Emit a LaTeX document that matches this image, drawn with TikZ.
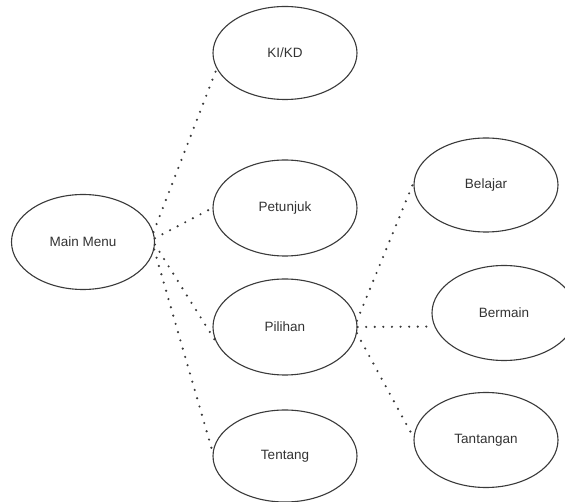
\documentclass[tikz,border=0pt]{standalone}
\usepackage{fontspec}
\setmainfont{Liberation Sans}
\usetikzlibrary{shapes.geometric}
\definecolor{edge}{HTML}{3A3A3A}
\definecolor{txt}{HTML}{333333}
\definecolor{dotc}{HTML}{3A3A3A}
\tikzset{
  usecase/.style={ellipse, draw=edge, line width=1.1pt, inner sep=0pt,
    minimum width=144pt, minimum height=95pt, text=txt,
    font=\fontsize{13.5pt}{16pt}\selectfont},
  link/.style={draw=dotc, line width=2.4pt, line cap=round,
    dash pattern=on 0pt off 8.6pt}
}
\begin{document}
\begin{tikzpicture}[x=1pt,y=-1pt]
\clip (0,0) rectangle (565,502);
\fill[white] (0,0) rectangle (565,502);
\node[usecase, minimum width=143pt] (main) at (83,242) {Main Menu};
\node[usecase, minimum height=93pt] (kikd) at (285,53) {KI/KD};
\node[usecase, minimum height=96pt] (petunjuk) at (285,208) {Petunjuk};
\node[usecase, minimum height=96pt] (pilihan) at (285,327) {Pilihan};
\node[usecase, minimum height=92pt] (tentang) at (285,456) {Tentang};
\node[usecase, minimum height=94pt] (belajar) at (486,185) {Belajar};
\node[usecase] (bermain) at (504,313) {Bermain};
\node[usecase] (tantangan) at (486,440) {Tantangan};
\path[link] (main.8) -- (kikd.193);
\path[link] (main.3) -- (petunjuk.180);
\path[link] (main.-2) -- (pilihan.192);
\path[link] (main.-6) -- (tentang.177);
\path[link] (pilihan.5) -- (belajar.178);
\path[link, shorten >=6pt] (pilihan.0) -- (bermain.191);
\path[link] (pilihan.-5) -- (tantangan.178);
\end{tikzpicture}
\end{document}
